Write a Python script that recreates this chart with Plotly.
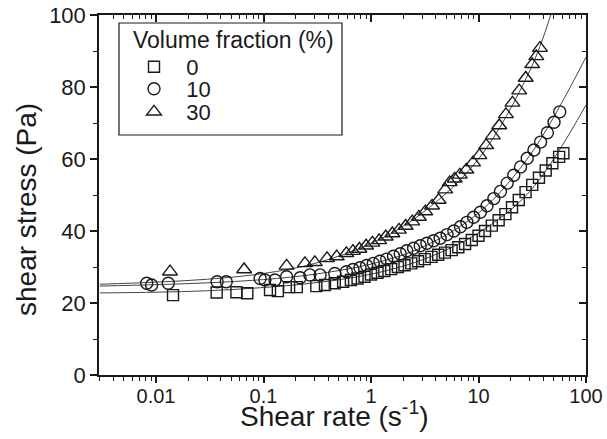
import math
import plotly.graph_objects as go

# ---- data ----
# 0 % (squares)
x0 = [0.0144, 0.0367, 0.056, 0.0707, 0.115, 0.136, 0.173, 0.204, 0.31, 0.373, 0.46, 0.55,
      0.65, 0.75, 0.87, 1.0, 1.15, 1.33, 1.54, 1.78, 2.05, 2.37, 2.74, 3.16, 3.65, 4.22,
      4.87, 5.62, 6.49, 7.5, 8.66, 10.0, 11.5, 13.3, 15.4, 17.8, 20.5, 23.7, 27.4, 31.6,
      36.5, 42.2, 48.7, 56.2, 61.6]
y0 = [22.2, 22.9, 23.0, 22.7, 23.6, 23.3, 24.4, 24.4, 24.7, 25.0, 25.5, 25.9,
      26.4, 26.8, 27.3, 27.9, 28.4, 28.9, 29.4, 30.0, 30.5, 31.0, 31.6, 32.2, 32.8, 33.4,
      34.0, 34.7, 35.5, 36.4, 37.5, 38.7, 40.0, 41.5, 43.0, 44.7, 46.6, 48.6, 50.8, 52.8,
      54.8, 56.8, 58.8, 60.6, 61.6]

# 10 % (circles)
x10 = [0.0082, 0.0091, 0.013, 0.037, 0.045, 0.093, 0.103, 0.128, 0.164, 0.219, 0.27, 0.336,
       0.46, 0.59, 0.68, 0.79, 0.91, 1.05, 1.21, 1.4, 1.62, 1.87, 2.15, 2.49, 2.87, 3.31,
       3.82, 4.4, 5.1, 5.9, 6.8, 7.8, 9.0, 10.4, 12.0, 13.9, 16.0, 18.5, 21.3, 24.6, 28.4,
       32.8, 37.8, 43.7, 50.4, 57.0]
y10 = [25.5, 25.0, 25.5, 25.9, 25.9, 26.8, 26.4, 26.4, 27.3, 27.0, 27.8, 27.8,
       28.2, 28.7, 29.3, 29.8, 30.4, 31.0, 31.6, 32.2, 33.0, 33.7, 34.5, 35.2, 35.9, 36.6,
       37.3, 38.0, 39.0, 40.0, 41.2, 42.4, 43.8, 45.2, 47.0, 49.0, 51.0, 53.3, 55.5, 57.8, 60.2,
       62.5, 64.7, 67.3, 70.2, 73.1]

# 30 % (triangles)
x30 = [0.0135, 0.066, 0.164, 0.243, 0.30, 0.39, 0.48, 0.59, 0.68, 0.78, 0.9, 1.03, 1.19,
       1.37, 1.58, 1.82, 2.1, 2.42, 2.79, 3.2, 3.7, 4.26, 4.9, 5.4, 6.0, 6.7, 7.7, 8.9,
       10.2, 11.8, 13.6, 15.6, 18.0, 20.7, 23.9, 27.5, 31.6, 34.5, 37.3]
y30 = [28.7, 29.3, 30.3, 31.0, 31.3, 32.4, 32.9, 33.8, 34.4, 35.0, 35.9, 36.7, 37.4,
       38.4, 39.3, 40.3, 41.4, 42.6, 43.9, 45.4, 47.0, 48.6, 51.5, 53.5, 54.5, 55.6, 57.0, 59.0,
       61.0, 63.8, 66.5, 69.3, 72.4, 75.6, 79.0, 82.5, 86.3, 88.5, 90.8]

# fitted curves
fit0_x = [0.003, 0.01, 0.03, 0.1, 0.3, 1, 3, 10, 30, 100]
fit0_y = [22.8, 23.0, 23.4, 24.3, 25.6, 28.0, 32.0, 39.5, 51.0, 75.0]
fit10_x = [0.003, 0.01, 0.03, 0.1, 0.3, 1, 3, 10, 30, 100]
fit10_y = [24.7, 25.1, 25.6, 26.5, 28.0, 30.8, 35.5, 45.0, 61.0, 88.3]
fit30_x = [0.003, 0.01, 0.03, 0.1, 0.3, 1, 3, 10, 30, 47]
fit30_y = [25.2, 25.8, 26.6, 28.2, 31.0, 36.5, 45.0, 60.0, 84.5, 100.0]

names = ["0", "10", "30"]
legend_title = "Volume fraction (%)"
x_title = "Shear rate (s<sup>-1</sup>)"
y_title = "shear stress (Pa)"
xticks = [0.01, 0.1, 1, 10, 100]
xticklabels = ["0.01", "0.1", "1", "10", "100"]
yticks = [0, 20, 40, 60, 80, 100]

# ---- figure ----
FONT = "Liberation Sans, Arial, sans-serif"
INK = "#1a1a1a"
W, H = 607, 439
ML, MR, MT, MB = 99, 21, 15, 64
PW, PH = W - ML - MR, H - MT - MB
xr = [math.log10(0.00295), 2]
yr = [0, 100]

def px_x(p):  # pixel -> paper
    return (p - ML) / PW

def px_y(p):
    return (H - MB - p) / PH

xminor = [m * 10 ** e for e in range(-3, 2) for m in range(2, 10) if 0.00295 <= m * 10 ** e <= 100]
yminor = [10, 30, 50, 70, 90]

fig = go.Figure()
for fx, fy in [(fit0_x, fit0_y), (fit10_x, fit10_y), (fit30_x, fit30_y)]:
    fig.add_trace(go.Scatter(x=fx, y=fy, mode="lines", line=dict(color="#444444", width=1, shape="spline"),
                             showlegend=False, hoverinfo="skip"))

legend_ids = ["legend", "legend2", "legend3"]
for xs, ys, sym, sz, nm, lg in [(x0, y0, "square-open", 11, names[0], legend_ids[0]),
                                (x10, y10, "circle-open", 12, names[1], legend_ids[1]),
                                (x30, y30, "triangle-up-open", 13, names[2], legend_ids[2])]:
    fig.add_trace(go.Scatter(x=xs, y=ys, mode="markers", name="\u00a0\u00a0" + nm, legend=lg,
                             marker=dict(symbol=sym, size=sz, color=INK, line=dict(width=1.4, color=INK))))

axis_common = dict(showgrid=False, zeroline=False, linecolor=INK, linewidth=1.5, tickcolor=INK,
                   tickwidth=1.5, automargin=False)

leg_common = dict(xanchor="left", yanchor="middle", bgcolor="rgba(255,255,255,0)",
                  borderwidth=0, font=dict(size=22, family=FONT, color=INK), itemwidth=30)
leg_x = px_x(134)

fig.update_layout(
    width=W, height=H,
    margin=dict(l=ML, r=MR, t=MT, b=MB),
    paper_bgcolor="white", plot_bgcolor="white",
    font=dict(family=FONT, size=22, color=INK),
    xaxis=dict(type="log", range=xr, tickvals=xticks, ticktext=xticklabels, ticks="outside",
               ticklen=6, showline=True, ticklabelstandoff=-4,
               minor=dict(tickvals=xminor, ticks="outside", ticklen=4, tickcolor=INK, tickwidth=1.2),
               tickfont=dict(size=20), **axis_common),
    yaxis=dict(range=yr, tickvals=yticks, ticks="outside", ticklen=7, showline=True,
               minor=dict(tickvals=yminor, ticks="outside", ticklen=4, tickcolor=INK, tickwidth=1.2),
               tickfont=dict(size=22), **axis_common),
    xaxis2=dict(type="log", range=xr, overlaying="x", side="top", anchor="y", tickvals=xticks,
                showticklabels=False, ticks="inside", ticklen=7, showline=True,
                minor=dict(tickvals=xminor, ticks="inside", ticklen=4, tickcolor=INK, tickwidth=1.2),
                **axis_common),
    yaxis2=dict(range=yr, overlaying="y", side="right", anchor="x", tickvals=yticks,
                showticklabels=False, ticks="inside", ticklen=7, showline=True,
                minor=dict(tickvals=yminor, ticks="inside", ticklen=4, tickcolor=INK, tickwidth=1.2),
                **axis_common),
    legend=dict(x=leg_x, y=px_y(67), **leg_common),
    legend2=dict(x=leg_x, y=px_y(89), **leg_common),
    legend3=dict(x=leg_x, y=px_y(112), **leg_common),
    shapes=[dict(type="rect", xref="paper", yref="paper", x0=px_x(119), x1=px_x(342),
                 y0=px_y(135), y1=px_y(23), line=dict(color=INK, width=1.2))],
    annotations=[
        dict(text=legend_title, xref="paper", yref="paper", x=px_x(131), y=px_y(40),
             xanchor="left", yanchor="middle", showarrow=False,
             font=dict(size=23, family=FONT, color=INK)),
        dict(text=x_title, xref="paper", yref="paper", x=px_x(334), y=px_y(414),
             xanchor="center", yanchor="middle", showarrow=False,
             font=dict(size=28, family=FONT, color=INK)),
        dict(text=y_title, xref="paper", yref="paper", x=px_x(26), y=px_y(210),
             xanchor="center", yanchor="middle", showarrow=False, textangle=-90,
             font=dict(size=28, family=FONT, color=INK)),
    ],
)
# empty trace so the mirror axes are drawn
fig.add_trace(go.Scatter(x=[None], y=[None], xaxis="x2", yaxis="y2", showlegend=False, hoverinfo="skip"))

fig.write_html("out.html", config={"displayModeBar": False},
               post_script="document.body.style.margin='0';document.body.style.overflow='hidden';")
